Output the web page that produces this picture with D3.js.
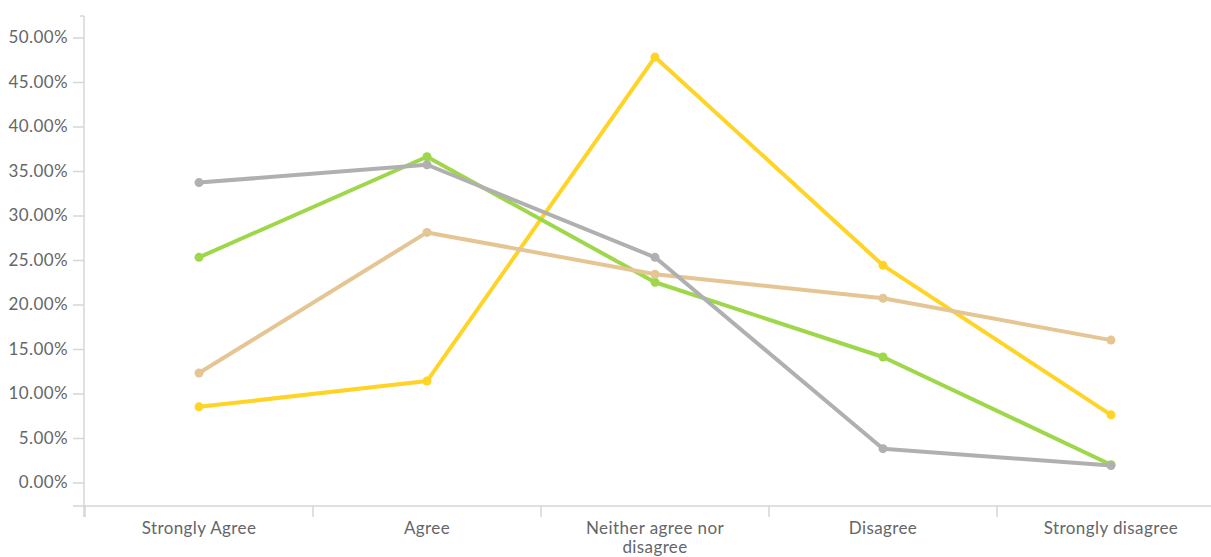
<!DOCTYPE html>
<html>
<head>
<meta charset="utf-8">
<script src="https://cdn.jsdelivr.net/npm/d3@7"></script>
<style>
  html, body { margin: 0; padding: 0; background: #fff; }
  svg { display: block; }
  text { font-family: Lato, "Open Sans", sans-serif; fill: #646669; letter-spacing: 0.4px; }
</style>
</head>
<body>
<svg id="chart" width="1211" height="557"></svg>
<script>
// Response categories along the x axis
const categories = ["Strongly Agree", "Agree", "Neither agree nor disagree", "Disagree", "Strongly disagree"];

// Share of responses (%) per group
const grayValues   = [33.7, 35.7, 25.3, 3.8, 1.9];
const greenValues  = [25.3, 36.6, 22.5, 14.1, 2.0];
const tanValues    = [12.3, 28.1, 23.4, 20.7, 16.0];
const yellowValues = [8.5, 11.4, 47.8, 24.4, 7.6];

// Y tick values (%)
const yTicks = [0, 5, 10, 15, 20, 25, 30, 35, 40, 45, 50];

const series = [
  { name: "yellow", color: "#ffd426", values: yellowValues },
  { name: "green",  color: "#9fd74a", values: greenValues },
  { name: "tan",    color: "#e4c593", values: tanValues },
  { name: "gray",   color: "#b0b0b0", values: grayValues }
];

const svg = d3.select("#chart");
const axisColor = "#d5d6d8";

const x = d3.scaleBand().domain(categories).range([85, 1225]);
const y = d3.scaleLinear().domain([0, 50]).range([482.5, 37.5]);
const baseY = 506;

// Y axis
const yAxis = svg.append("g").attr("transform", "translate(84,0)")
  .call(d3.axisLeft(y).tickValues(yTicks).tickSize(11).tickPadding(5)
    .tickFormat(d => d.toFixed(2) + "%"));
yAxis.select(".domain").remove();
yAxis.selectAll(".tick line").attr("stroke", axisColor).attr("stroke-width", 1.5);
yAxis.selectAll(".tick text").style("font-size", "17px").attr("fill", "#646669");
svg.append("line").attr("x1", 84).attr("x2", 84).attr("y1", 16).attr("y2", 517)
  .attr("stroke", axisColor).attr("stroke-width", 1.5);
svg.append("line").attr("x1", 80).attr("x2", 84).attr("y1", 16).attr("y2", 16)
  .attr("stroke", axisColor).attr("stroke-width", 1.5);

// X axis
svg.append("line").attr("x1", 73).attr("x2", 1211).attr("y1", baseY).attr("y2", baseY)
  .attr("stroke", axisColor).attr("stroke-width", 1.5);
const bounds = categories.map(c => x(c)).concat([x.range()[1]]);
svg.selectAll("line.xtick").data(bounds).join("line")
  .attr("class", "xtick")
  .attr("x1", d => d).attr("x2", d => d)
  .attr("y1", baseY).attr("y2", 517)
  .attr("stroke", axisColor).attr("stroke-width", 1.5);

// Category labels, wrapped to the band width
const labelG = svg.append("g");
categories.forEach(c => {
  const cx = x(c) + x.bandwidth() / 2;
  const words = c.split(" ");
  const lines = [];
  let cur = "";
  const maxChars = 22;
  words.forEach(w => {
    const t = cur ? cur + " " + w : w;
    if (t.length > maxChars && cur) { lines.push(cur); cur = w; } else cur = t;
  });
  lines.push(cur);
  const txt = labelG.append("text").attr("text-anchor", "middle")
    .style("font-size", "17px");
  lines.forEach((l, i) => {
    txt.append("tspan").attr("x", cx).attr("y", 534 + i * 19).text(l);
  });
});

// Lines and point markers
const line = d3.line()
  .x((d, i) => x(categories[i]) + x.bandwidth() / 2)
  .y(d => y(d));

series.forEach(s => {
  const g = svg.append("g");
  g.append("path").datum(s.values)
    .attr("d", line)
    .attr("fill", "none")
    .attr("stroke", s.color)
    .attr("stroke-width", 4)
    .attr("stroke-linejoin", "round");
  g.selectAll("circle").data(s.values).join("circle")
    .attr("cx", (d, i) => x(categories[i]) + x.bandwidth() / 2)
    .attr("cy", d => y(d))
    .attr("r", 4.5)
    .attr("fill", s.color);
});
</script>
</body>
</html>
